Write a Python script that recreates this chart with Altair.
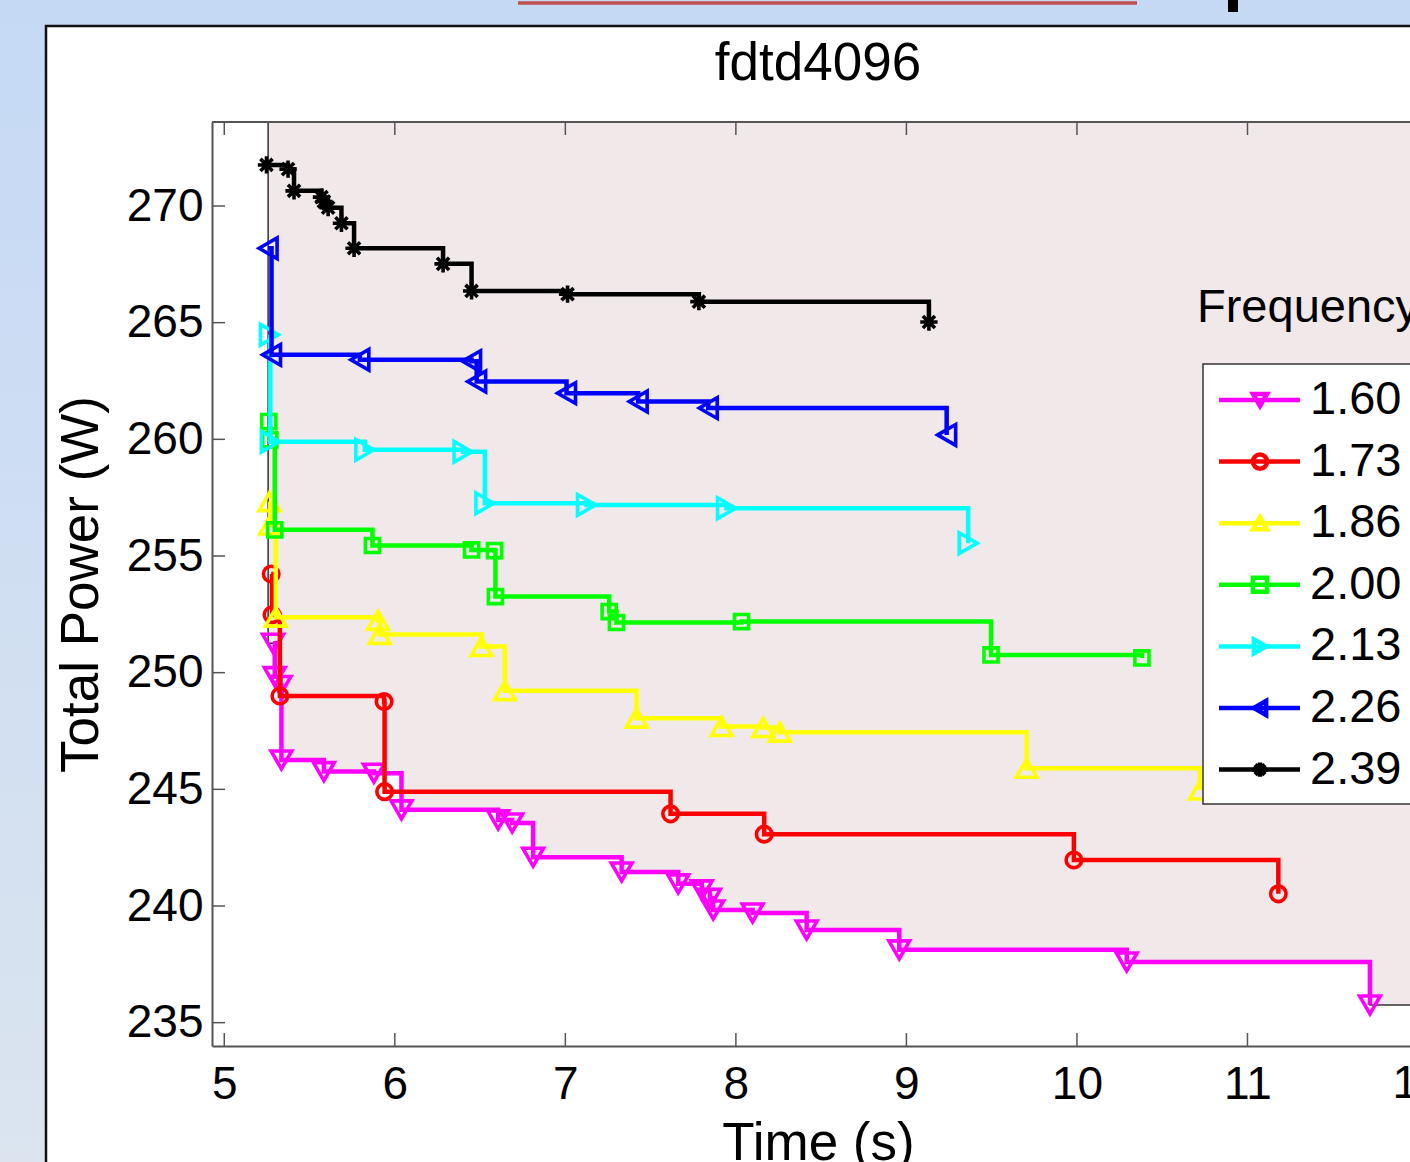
import altair as alt
import pandas as pd

# ---------------- data ----------------
FREQS = ["1.60", "1.73", "1.86", "2.00", "2.13", "2.26", "2.39"]
COLORS = ["#ff00ff", "#ff0000", "#ffff00", "#00ff00", "#00ffff", "#0000ff", "#000000"]
ASTERISK = "M0,-1L0,1M-1,0L1,0M-0.7,-0.7L0.7,0.7M-0.7,0.7L0.7,-0.7"
SHAPES = ["triangle-down", "circle", "triangle-up", "square",
          "triangle-right", "triangle-left", ASTERISK]

T_160 = [5.286, 5.296, 5.33, 5.335, 5.584, 5.877, 6.039, 6.606, 6.688, 6.811,
         7.330, 7.662, 7.80, 7.848, 7.867, 8.098, 8.415, 8.958, 10.292, 11.718]
P_160 = [251.26, 249.83, 249.45, 246.26, 245.76, 245.69, 244.12, 243.69, 243.56, 242.09,
         241.46, 240.95, 240.69, 240.33, 239.83, 239.70, 238.97, 238.12, 237.60, 235.76]

T_173 = [5.275, 5.28, 5.326, 5.937, 5.94, 7.617, 8.166, 9.982, 11.181]
P_173 = [254.23, 252.48, 249.0, 248.76, 244.90, 243.95, 243.08, 241.97, 240.52]

T_186 = [5.265, 5.27, 5.302, 5.902, 5.912, 6.508, 6.645, 7.418, 7.916, 8.160, 8.258, 9.705, 10.721]
P_186 = [257.33, 256.33, 252.38, 252.24, 251.64, 251.12, 249.23, 248.05, 247.69, 247.65, 247.45, 245.90, 244.97]

T_200 = [5.261, 5.267, 5.296, 5.869, 6.45, 6.585, 6.59, 7.257, 7.30, 8.033, 9.496, 10.381]
P_200 = [260.76, 259.98, 256.12, 255.45, 255.26, 255.23, 253.26, 252.62, 252.15, 252.19, 250.76, 250.63]

T_213 = [5.265, 5.27, 5.824, 6.40, 6.528, 7.124, 7.945, 9.362]
P_213 = [264.48, 259.90, 259.55, 259.47, 257.26, 257.19, 257.05, 255.55]

T_226 = [5.257, 5.277, 5.795, 6.45, 6.48, 7.007, 7.427, 7.838, 9.236]
P_226 = [268.19, 263.62, 263.41, 263.35, 262.48, 261.98, 261.62, 261.34, 260.19]

T_239 = [5.2475, 5.374, 5.409, 5.570, 5.584, 5.609, 5.687, 5.761, 6.283, 6.450, 7.013, 7.783, 9.132]
P_239 = [271.76, 271.58, 270.65, 270.38, 270.19, 269.93, 269.26, 268.19, 267.52, 266.36, 266.22, 265.90, 265.03]

SERIES_T = [T_160, T_173, T_186, T_200, T_213, T_226, T_239]
SERIES_P = [P_160, P_173, P_186, P_200, P_213, P_226, P_239]

PATCH_START = 5.257   # left edge of the shaded region
PATCH_END = 12.6      # shaded region runs off the right side

X_TICKS = [5, 6, 7, 8, 9, 10, 11, 12]
Y_TICKS = [235, 240, 245, 250, 255, 260, 265, 270]
X_MIN, X_MAX = 4.928, 11.953
Y_MIN, Y_MAX = 234.0, 273.6

# ---------------- layout ----------------
W, H = 1198, 924
PAD_L, PAD_T = 212, 122
FONT = "Liberation Sans"

X_SCALE = alt.Scale(domain=[X_MIN, X_MAX], nice=False, zero=False)
Y_SCALE = alt.Scale(domain=[Y_MIN, Y_MAX], nice=False, zero=False)
X_AXIS = alt.Axis(values=X_TICKS, title="Time (s)", format="d",
                  labelPadding=16, titlePadding=10, titleX=818 - PAD_L, zindex=1)
Y_AXIS = alt.Axis(values=Y_TICKS, title="Total Power (W)", format="d",
                  labelPadding=9, titlePadding=18, zindex=1)


def xenc(f):
    return alt.X(f"{f}:Q", scale=X_SCALE, axis=X_AXIS)


def yenc(f):
    return alt.Y(f"{f}:Q", scale=Y_SCALE, axis=Y_AXIS)


COLOR = alt.Color("freq:N", scale=alt.Scale(domain=FREQS, range=COLORS), legend=None)
SHAPE = alt.Shape("freq:N", scale=alt.Scale(domain=FREQS, range=SHAPES), legend=None)
SIZE_BY = {"triangle-down": 430, "triangle-up": 430, "triangle-left": 430,
           "triangle-right": 430, "circle": 240, "square": 200}

one = pd.DataFrame({"a": [0]})

# ---------------- decoration: slide background ----------------
bg = alt.Chart(one).mark_rect(
    fill=alt.Gradient(gradient="linear",
                      stops=[alt.GradientStop(color="#c5d9f5", offset=0),
                             alt.GradientStop(color="#dbe4ef", offset=1)],
                      x1=0, x2=0, y1=0, y2=1),
    clip=False,
).encode(x=alt.value(-PAD_L), x2=alt.value(W + 5), y=alt.value(-PAD_T), y2=alt.value(1162 - PAD_T))

panel = alt.Chart(one).mark_rect(fill="white", stroke="#111111", strokeWidth=2.5, clip=False).encode(
    x=alt.value(46 - PAD_L), x2=alt.value(W + 30), y=alt.value(26 - PAD_T), y2=alt.value(1162 - PAD_T + 30))

red_bar = alt.Chart(one).mark_rule(color="#c0504d", strokeWidth=3.5, clip=False).encode(
    x=alt.value(518 - PAD_L), x2=alt.value(1137 - PAD_L), y=alt.value(3 - PAD_T))

black_bit = alt.Chart(one).mark_rect(color="#000000", clip=False).encode(
    x=alt.value(1228 - PAD_L), x2=alt.value(1238 - PAD_L), y=alt.value(-PAD_T), y2=alt.value(12 - PAD_T))

title = alt.Chart(one).mark_text(text="fdtd4096", font=FONT, fontSize=53, align="center",
                                 baseline="alphabetic", color="black", clip=False).encode(
    x=alt.value(818 - PAD_L), y=alt.value(80 - PAD_T))

# ---------------- main plot ----------------
# shaded patch: everything above the 1.60 GHz staircase
patch_df = pd.DataFrame({"t": [PATCH_START] + T_160 + [PATCH_END],
                         "P": [P_160[0]] + P_160 + [P_160[-1]]})
patch = alt.Chart(patch_df).mark_area(interpolate="step-after", fill="#f0e8e9",
                                      stroke="#333333", strokeWidth=1.5, clip=True).encode(
    x=xenc("t"), y=yenc("P"), y2=alt.datum(Y_MAX + 2))

series_layers = []
for f, ts, ps, shp in zip(FREQS, SERIES_T, SERIES_P, SHAPES):
    d = pd.DataFrame({"t": ts, "P": ps, "freq": f, "i": list(range(len(ts)))})
    line = alt.Chart(d).mark_line(interpolate="step-after", strokeWidth=4.5, clip=True).encode(
        x=xenc("t"), y=yenc("P"), color=COLOR, order=alt.Order("i:Q"))
    pts = alt.Chart(d).mark_point(filled=False, strokeWidth=3.6, opacity=1, clip=True).encode(
        x=xenc("t"), y=yenc("P"), color=COLOR, shape=SHAPE,
        size=alt.value(SIZE_BY.get(shp, 300)))
    series_layers += [line, pts]

xt = pd.DataFrame({"v": X_TICKS})
yt = pd.DataFrame({"v": Y_TICKS})
tick_style = dict(color="#555555", strokeWidth=1.5, clip=False)
xt_bottom = alt.Chart(xt).mark_rule(**tick_style).encode(x=xenc("v"), y=alt.value(H), y2=alt.value(H - 13))
xt_top = alt.Chart(xt).mark_rule(**tick_style).encode(x=xenc("v"), y=alt.value(0), y2=alt.value(13))
yt_left = alt.Chart(yt).mark_rule(**tick_style).encode(y=yenc("v"), x=alt.value(0), x2=alt.value(13))
top_border = alt.Chart(one).mark_rule(color="#555555", strokeWidth=2, clip=False).encode(
    x=alt.value(0), x2=alt.value(W + 10), y=alt.value(0))

# the last x tick label lies past the right edge and is cut by it
edge_lab = alt.Chart(pd.DataFrame({"v": [X_TICKS[-1]]})).mark_text(
    font=FONT, fontSize=46, align="center", baseline="top", color="black", clip=False).encode(
    x=xenc("v"), y=alt.value(H + 16), text=alt.Text("v:Q", format="d"))

main = alt.layer(patch, *series_layers, xt_bottom, xt_top, yt_left, top_border, edge_lab)

# ---------------- legend (MATLAB style, runs off the right edge) ----------------
leg_df = pd.DataFrame({"freq": FREQS, "row": list(range(len(FREQS)))})
LEG_Y = alt.Y("row:Q", scale=alt.Scale(domain=[0, 6], range=[278, 278 + 6 * 61.6]), axis=None)

leg_box = alt.Chart(one).mark_rect(fill="white", stroke="#333333", strokeWidth=1.5, clip=False).encode(
    x=alt.value(1203 - PAD_L), x2=alt.value(W + 40), y=alt.value(364 - PAD_T), y2=alt.value(804 - PAD_T))
leg_title = alt.Chart(one).mark_text(text="Frequency", font=FONT, fontSize=47, align="left",
                                     baseline="alphabetic", color="black", clip=False).encode(
    x=alt.value(1197 - PAD_L), y=alt.value(322 - PAD_T))
leg_lines = alt.Chart(leg_df).mark_rule(strokeWidth=4.5, clip=False).encode(
    x=alt.value(1219 - PAD_L), x2=alt.value(1300 - PAD_L), y=LEG_Y, color=COLOR)
leg_pts = alt.Chart(leg_df).mark_point(filled=False, strokeWidth=4.5, size=200, opacity=1, clip=False).encode(
    x=alt.value(1260 - PAD_L), y=LEG_Y, color=COLOR, shape=SHAPE)
leg_txt = alt.Chart(leg_df).mark_text(font=FONT, fontSize=47, align="left", baseline="middle",
                                      color="black", clip=False).encode(
    x=alt.value(1310 - PAD_L), y=LEG_Y, text="freq:N")

legend = alt.layer(leg_box, leg_lines, leg_pts, leg_txt)

chart = alt.layer(bg, panel, red_bar, black_bit, title, main, legend, leg_title).resolve_scale(
    x="independent", y="independent"
).properties(
    width=W, height=H,
    autosize=alt.AutoSizeParams(type="none"),
    padding={"left": PAD_L, "top": PAD_T, "right": 0, "bottom": 1162 - PAD_T - H},
    background="#c5d9f5",
).configure_view(stroke=None).configure_axis(
    domainColor="#555555", domainWidth=2, ticks=False, tickSize=0, grid=False,
    labelFont=FONT, labelFontSize=46, labelColor="black", labelFlush=False, labelOverlap=False,
    titleFont=FONT, titleFontSize=53, titleFontWeight="normal", titleColor="black",
)

chart.save("out.html", embed_options={"renderer": "svg", "actions": False})
